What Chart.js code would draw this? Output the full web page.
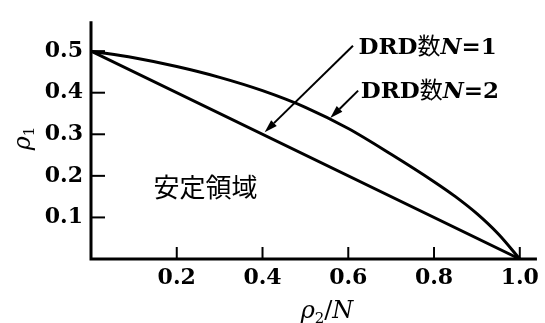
<!DOCTYPE html>
<html>
<head>
<meta charset="utf-8">
<script src="https://cdn.jsdelivr.net/npm/chart.js@4.4.1/dist/chart.umd.min.js"></script>
<style>
  html, body { margin: 0; padding: 0; background: #fff; }
  #wrap { width: 545px; height: 323px; }
</style>
</head>
<body>
<div id="wrap"><canvas id="grafico" width="545" height="323"></canvas></div>
<script>
// ======= Dados =======
const xTicks = [0.2, 0.4, 0.6, 0.8, 1.0];
const yTicks = [0.1, 0.2, 0.3, 0.4, 0.5];

// DRD数 N=1 (reta)
const xN1 = [0, 1.0];
const yN1 = [0.5, 0];

// DRD数 N=2 (curva)
const xN2 = [0, 0.1, 0.2, 0.3, 0.4, 0.5, 0.6, 0.7, 0.8, 0.85, 0.9, 0.95, 1.0];
const yN2 = [0.5, 0.484, 0.463, 0.437, 0.405, 0.365, 0.314, 0.252, 0.186, 0.150, 0.109, 0.060, 0];

// rótulos com seta: texto, posição do texto, início e ponta da seta (em valores)
const rotulos = [
  { n: "1", tx: 0.624, ty: 0.493, ax: 0.611, ay: 0.513, bx: 0.405, by: 0.305 },
  { n: "2", tx: 0.629, ty: 0.388, ax: 0.623, ay: 0.405, bx: 0.558, by: 0.339 }
];
const regiao = { texto: "安定領域", x: 0.267, y: 0.172 };

const serif = "'DejaVu Serif', 'Liberation Serif', serif";
const cjk = "'Noto Sans CJK JP', 'Noto Sans CJK SC', sans-serif";

function pts(xs, ys) { return xs.map((x, i) => ({ x: x, y: ys[i] })); }

// ======= Plugin: eixos, marcas e textos =======
const desenhos = {
  id: "desenhos",
  afterDatasetsDraw(chart) {
    const ctx = chart.ctx;
    const a = chart.chartArea;
    const sx = chart.scales.x, sy = chart.scales.y;
    ctx.save();
    ctx.strokeStyle = "#000";
    ctx.fillStyle = "#000";
    ctx.lineWidth = 3;
    ctx.lineCap = "butt";

    // eixos
    ctx.beginPath();
    ctx.moveTo(a.left, a.top);
    ctx.lineTo(a.left, a.bottom);
    ctx.lineTo(a.right, a.bottom);
    ctx.stroke();

    // marcas internas
    ctx.lineWidth = 2;
    yTicks.forEach(v => {
      const y = sy.getPixelForValue(v);
      ctx.beginPath(); ctx.moveTo(a.left, y); ctx.lineTo(a.left + 14, y); ctx.stroke();
    });
    xTicks.forEach(v => {
      const x = sx.getPixelForValue(v);
      ctx.beginPath(); ctx.moveTo(x, a.bottom); ctx.lineTo(x, a.bottom - 12); ctx.stroke();
    });

    // rótulos DRD
    ctx.textBaseline = "alphabetic";
    ctx.textAlign = "left";
    rotulos.forEach(r => {
      let x = sx.getPixelForValue(r.tx);
      const y = sy.getPixelForValue(r.ty);
      const partes = [
        ["DRD", "bold 23px " + serif],
        ["数", "23px " + cjk],
        ["N", "italic bold 23px " + serif],
        ["=" + r.n, "bold 23px " + serif]
      ];
      partes.forEach(p => {
        ctx.font = p[1];
        ctx.fillText(p[0], x, y);
        x += ctx.measureText(p[0]).width;
      });

      // seta
      const x0 = sx.getPixelForValue(r.ax), y0 = sy.getPixelForValue(r.ay);
      const x1 = sx.getPixelForValue(r.bx), y1 = sy.getPixelForValue(r.by);
      const ang = Math.atan2(y1 - y0, x1 - x0);
      const L = 13, W = 4;
      ctx.lineWidth = 2;
      ctx.beginPath();
      ctx.moveTo(x0, y0);
      ctx.lineTo(x1 - L * Math.cos(ang), y1 - L * Math.sin(ang));
      ctx.stroke();
      ctx.beginPath();
      ctx.moveTo(x1, y1);
      ctx.lineTo(x1 - L * Math.cos(ang) + W * Math.sin(ang), y1 - L * Math.sin(ang) - W * Math.cos(ang));
      ctx.lineTo(x1 - L * Math.cos(ang) - W * Math.sin(ang), y1 - L * Math.sin(ang) + W * Math.cos(ang));
      ctx.closePath();
      ctx.fill();
    });

    // região estável
    ctx.font = "26px " + cjk;
    ctx.textAlign = "center";
    ctx.textBaseline = "middle";
    ctx.fillText(regiao.texto, sx.getPixelForValue(regiao.x), sy.getPixelForValue(regiao.y));

    // título eixo y: ρ1
    ctx.save();
    ctx.translate(22, sy.getPixelForValue(0.29));
    ctx.rotate(-Math.PI / 2);
    ctx.textAlign = "left";
    ctx.textBaseline = "alphabetic";
    ctx.font = "italic 24px " + serif;
    const wr = ctx.measureText("ρ").width;
    ctx.font = "15px " + serif;
    const w1 = ctx.measureText("1").width;
    const inicio = -(wr + w1) / 2;
    ctx.font = "italic 24px " + serif;
    ctx.fillText("ρ", inicio, 8);
    ctx.font = "15px " + serif;
    ctx.fillText("1", inicio + wr, 12);
    ctx.restore();

    // título eixo x: ρ2/N
    const partesX = [
      ["ρ", "italic 24px " + serif, 0],
      ["2", "15px " + serif, 5],
      ["/", "24px " + serif, 0],
      ["N", "italic 24px " + serif, 0]
    ];
    let total = 0;
    partesX.forEach(p => { ctx.font = p[1]; total += ctx.measureText(p[0]).width; });
    let px = 327 - total / 2;
    ctx.textAlign = "left";
    ctx.textBaseline = "alphabetic";
    partesX.forEach(p => {
      ctx.font = p[1];
      ctx.fillText(p[0], px, 318 + p[2]);
      px += ctx.measureText(p[0]).width;
    });

    ctx.restore();
  }
};

// ======= Gráfico =======
const fonteTicks = { family: serif, size: 22, weight: "bold" };

new Chart(document.getElementById("grafico").getContext("2d"), {
  type: "scatter",
  data: {
    datasets: [
      {
        label: "DRD数N=1",
        data: pts(xN1, yN1),
        showLine: true,
        borderColor: "#000",
        borderWidth: 3,
        pointRadius: 0
      },
      {
        label: "DRD数N=2",
        data: pts(xN2, yN2),
        showLine: true,
        borderColor: "#000",
        borderWidth: 3,
        pointRadius: 0,
        cubicInterpolationMode: "monotone"
      }
    ]
  },
  options: {
    responsive: false,
    animation: false,
    devicePixelRatio: 1,
    layout: { padding: { top: 13, right: 2, left: 0, bottom: 0 } },
    plugins: { legend: { display: false }, tooltip: { enabled: false } },
    scales: {
      x: {
        type: "linear",
        min: 0,
        max: 1.04,
        afterBuildTicks: s => { s.ticks = xTicks.map(v => ({ value: v })); },
        afterFit: s => { s.height = 64; },
        grid: { display: false, drawTicks: false },
        border: { display: false },
        ticks: { padding: 6, color: "#000", font: fonteTicks, maxRotation: 0, callback: v => v.toFixed(1) }
      },
      y: {
        type: "linear",
        min: 0,
        max: 0.572,
        afterBuildTicks: s => { s.ticks = yTicks.map(v => ({ value: v })); },
        afterFit: s => { s.width = 91; },
        grid: { display: false, drawTicks: false },
        border: { display: false },
        ticks: { padding: 8, color: "#000", font: fonteTicks, callback: v => v.toFixed(1) }
      }
    }
  },
  plugins: [desenhos]
});
</script>
</body>
</html>
